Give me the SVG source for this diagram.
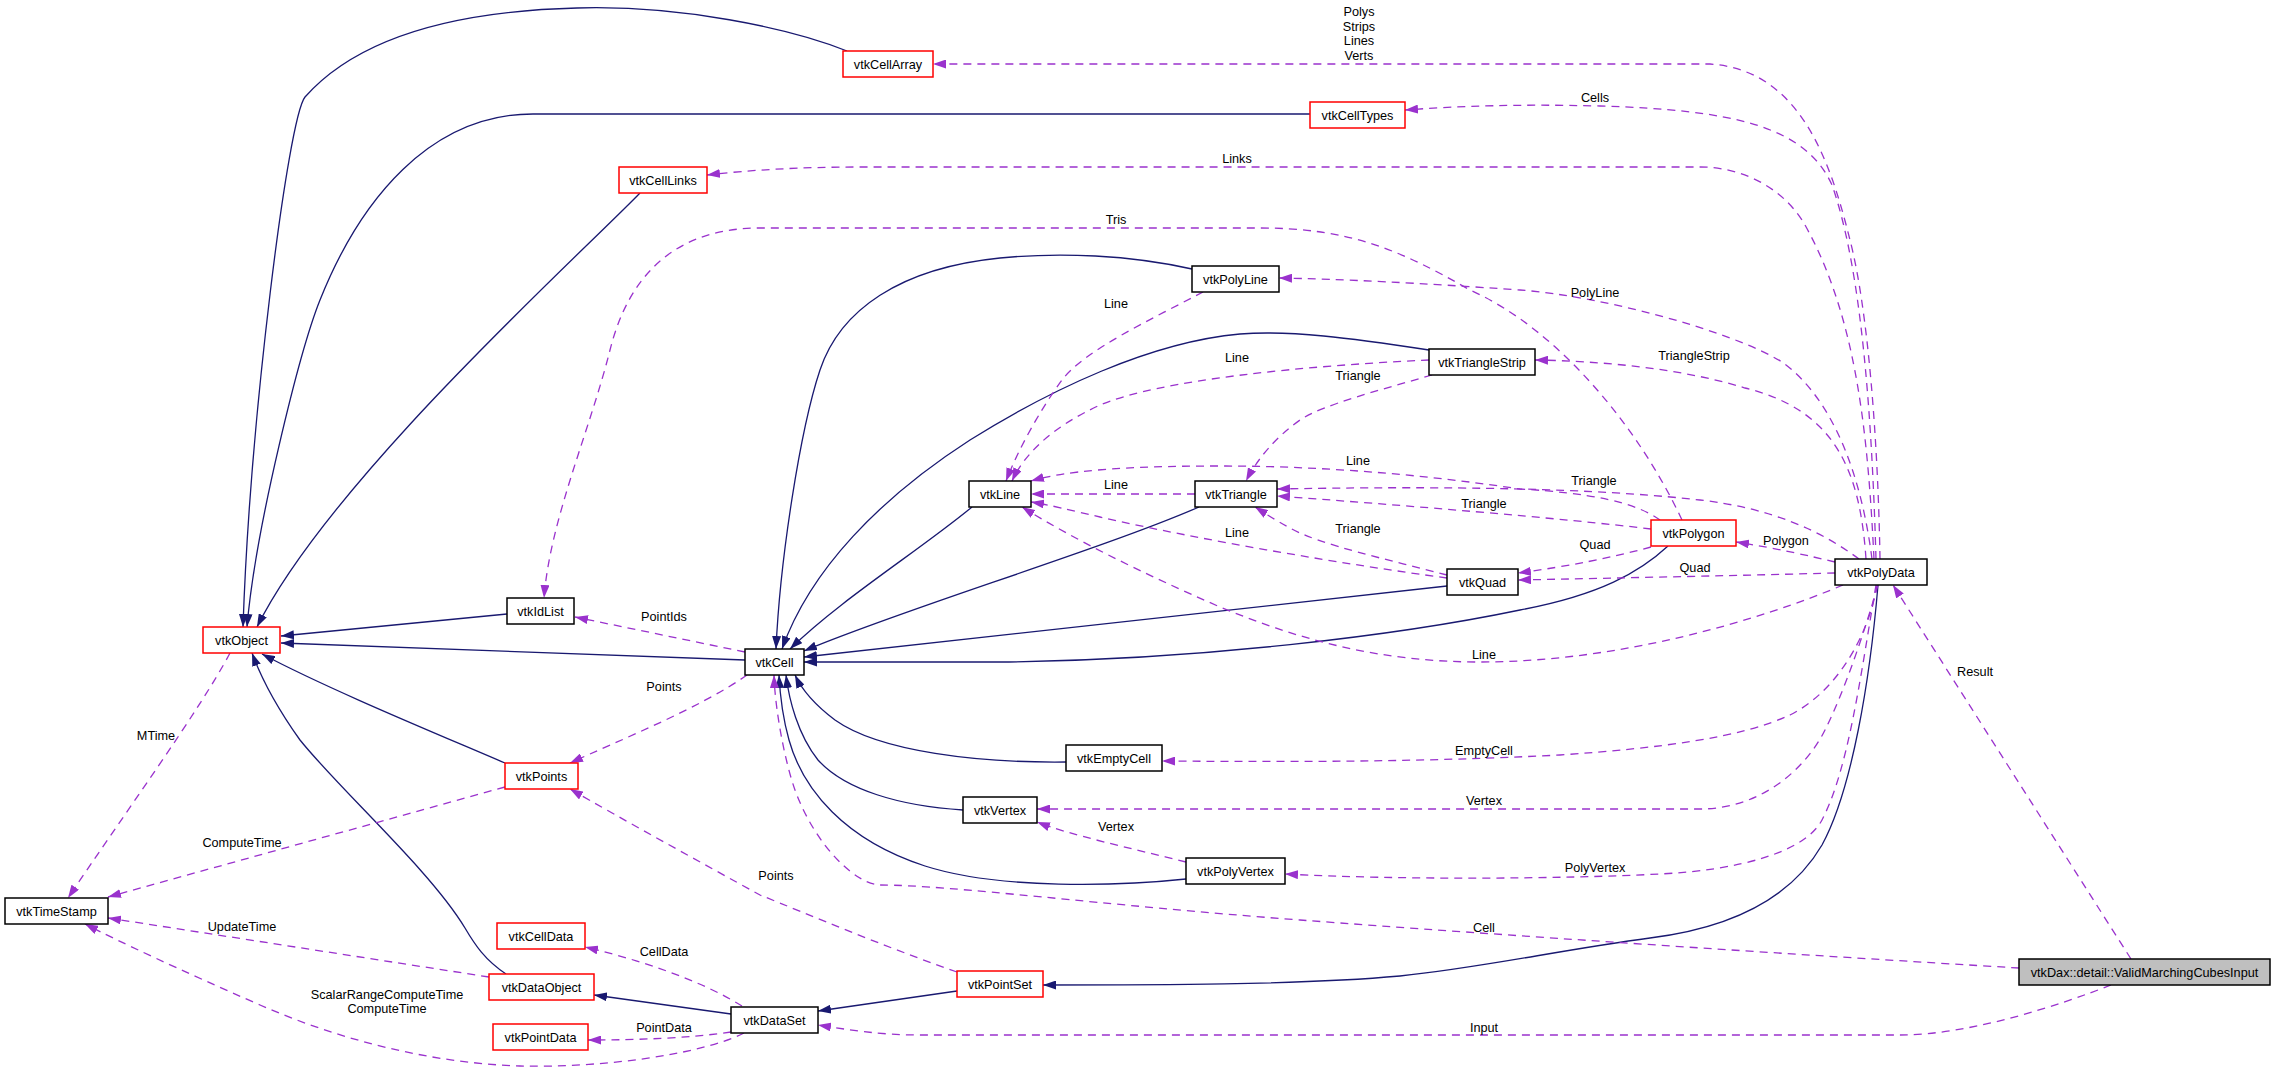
<svg xmlns="http://www.w3.org/2000/svg" width="2275" height="1072" viewBox="0 0 2275 1072">
<style>
  .bg { fill: #ffffff; }
  .n rect { fill: #ffffff; stroke: #000000; stroke-width: 1.5; }
  .n.r rect { stroke: #ff0000; }
  .n.g rect { fill: #bfbfbf; }
  .n text { font-family: "Liberation Sans", Arial, sans-serif; font-size: 12.7px; fill: #000; text-anchor: middle; }
  .s { fill: none; stroke: #191970; stroke-width: 1.3; marker-end: url(#as); }
  .d { fill: none; stroke: #9a32cd; stroke-width: 1.3; stroke-dasharray: 8,6; marker-end: url(#ad); }
  .lbl text { font-family: "Liberation Sans", Arial, sans-serif; font-size: 12.7px; fill: #000; text-anchor: middle; }
</style>
<defs>
  <marker id="as" markerUnits="userSpaceOnUse" markerWidth="13" markerHeight="9" viewBox="0 0 13 9" refX="13" refY="4.5" orient="auto">
    <path d="M0,0 L13,4.5 L0,9 z" fill="#191970"/>
  </marker>
  <marker id="ad" markerUnits="userSpaceOnUse" markerWidth="13" markerHeight="9" viewBox="0 0 13 9" refX="13" refY="4.5" orient="auto">
    <path d="M0,0 L13,4.5 L0,9 z" fill="#9a32cd"/>
  </marker>
</defs>
<rect class="bg" x="0" y="0" width="2275" height="1072"/>

<g id="connectors">
  <!-- inheritance (solid) -->
  <path class="s" d="M847,51 C790,28 680,5 577,8 C460,11 360,35 305,97 C288,118 250,420 243,627"/>
  <path class="s" d="M1310,114 L533,114 C430,114 360,200 320,300 C300,350 255,530 247,627"/>
  <path class="s" d="M640,193 C580,255 330,480 257,627"/>
  <path class="s" d="M507,614 L281,636"/>
  <path class="s" d="M745,660 L281,643"/>
  <path class="s" d="M505,763 C440,735 330,690 262,654"/>
  <path class="s" d="M506,974 C485,960 475,945 465,928 C430,870 340,790 300,740 C280,712 262,680 252,653"/>
  <path class="s" d="M1192,269 C1130,255 1060,252 1000,258 C900,268 840,310 820,370 C800,430 780,560 776,649"/>
  <path class="s" d="M1429,350 C1350,338 1290,330 1240,334 C1150,342 1050,390 970,440 C880,498 810,570 782,649"/>
  <path class="s" d="M972,507 C920,550 840,600 790,649"/>
  <path class="s" d="M1199,507 C1100,550 900,610 804,651"/>
  <path class="s" d="M1447,586 L804,657"/>
  <path class="s" d="M1668,546 C1640,572 1600,595 1520,610 C1400,635 1200,660 1000,662 L804,662"/>
  <path class="s" d="M1066,762 C980,763 880,752 835,720 C815,705 802,690 795,675"/>
  <path class="s" d="M963,810 C900,806 845,790 818,760 C798,735 789,700 786,675"/>
  <path class="s" d="M1186,879 C1120,886 1000,890 925,866 C845,840 803,790 789,740 C782,715 780,695 779,675"/>
  <path class="s" d="M1878,585 C1870,680 1852,790 1822,845 C1790,900 1730,928 1650,938 C1560,950 1480,968 1400,976 C1300,985 1150,985 1043,985"/>
  <path class="s" d="M957,991 L818,1011"/>
  <path class="s" d="M731,1014 L594,995"/>

  <!-- usage (dashed) -->
  <path class="d" d="M1880,559 C1878,440 1868,310 1850,240 C1830,160 1800,70 1710,64 L933,64"/>
  <path class="d" d="M1876,559 C1872,420 1862,270 1832,185 C1805,125 1730,110 1600,106 C1520,104 1460,106 1405,110"/>
  <path class="d" d="M1874,559 C1868,440 1858,320 1805,225 C1785,190 1745,167 1700,167 L860,167 C800,167 750,170 707,175"/>
  <path class="d" d="M1872,559 C1862,480 1835,400 1782,362 C1730,330 1600,296 1520,290 C1420,283 1340,279 1279,278"/>
  <path class="d" d="M1866,559 C1860,470 1835,410 1745,388 C1680,368 1600,361 1535,360"/>
  <path class="d" d="M1859,559 C1820,530 1770,508 1700,500 C1620,491 1500,485 1277,489"/>
  <path class="d" d="M1660,520 C1635,502 1590,493 1520,489 C1420,474 1320,466 1220,466 C1120,466 1065,471 1031,481"/>
  <path class="d" d="M1651,529 C1560,518 1400,505 1277,496"/>
  <path class="d" d="M1651,547 C1610,558 1570,566 1518,573"/>
  <path class="d" d="M1835,573 C1760,575 1620,578 1518,580"/>
  <path class="d" d="M1835,562 C1810,556 1775,548 1736,542"/>
  <path class="d" d="M1843,585 C1760,620 1620,662 1480,662 C1380,662 1300,640 1220,607 C1140,572 1075,540 1022,507"/>
  <path class="d" d="M1682,520 C1640,430 1560,330 1470,290 C1400,250 1350,228 1260,228 L760,228 C680,228 630,270 610,350 C590,430 550,520 544,598"/>
  <path class="d" d="M1429,360 C1300,366 1160,380 1100,405 C1050,428 1024,455 1012,481"/>
  <path class="d" d="M1432,375 C1380,390 1322,405 1300,420 C1275,438 1258,458 1246,481"/>
  <path class="d" d="M1203,292 C1150,320 1085,350 1062,380 C1040,410 1018,450 1006,481"/>
  <path class="d" d="M1195,494 L1031,494"/>
  <path class="d" d="M1447,578 C1350,565 1200,540 1100,517 C1070,510 1050,505 1031,502"/>
  <path class="d" d="M1447,575 C1390,560 1320,545 1290,528 C1275,520 1263,512 1255,507"/>
  <path class="d" d="M1877,585 C1870,630 1840,690 1790,715 C1740,738 1660,748 1560,755 C1420,762 1300,762 1162,761"/>
  <path class="d" d="M1878,585 C1865,630 1845,690 1825,730 C1805,770 1760,809 1700,809 L1037,809"/>
  <path class="d" d="M1876,585 C1860,680 1848,770 1822,820 C1805,852 1740,870 1660,874 C1560,879 1400,880 1285,874"/>
  <path class="d" d="M1186,862 C1130,848 1070,835 1037,822"/>
  <path class="d" d="M957,972 C880,945 810,915 760,895 C700,862 620,818 570,789"/>
  <path class="d" d="M747,675 C700,708 620,740 570,763"/>
  <path class="d" d="M745,652 L575,617"/>
  <path class="d" d="M230,653 C200,710 120,820 68,898"/>
  <path class="d" d="M505,787 L108,897"/>
  <path class="d" d="M489,977 L108,918"/>
  <path class="d" d="M744,1033 C700,1055 600,1068 520,1066 C430,1063 340,1040 260,1005 C180,970 120,942 85,924"/>
  <path class="d" d="M742,1006 C700,980 640,960 585,947"/>
  <path class="d" d="M731,1032 C690,1038 640,1040 588,1040"/>
  <path class="d" d="M2019,968 C1800,955 1500,935 1300,920 C1100,905 950,885 880,885 C855,884 815,845 795,790 C785,762 775,710 774,675"/>
  <path class="d" d="M2111,985 C2060,1005 1970,1035 1900,1035 L920,1035 C880,1035 850,1030 818,1025"/>
  <path class="d" d="M2131,959 L1893,585"/>

  <g class="lbl">
    <text x="1359" y="16">Polys</text>
    <text x="1359" y="31">Strips</text>
    <text x="1359" y="45">Lines</text>
    <text x="1359" y="60">Verts</text>
    <text x="1595" y="102">Cells</text>
    <text x="1237" y="163">Links</text>
    <text x="1116" y="224">Tris</text>
    <text x="1116" y="308">Line</text>
    <text x="1595" y="297">PolyLine</text>
    <text x="1237" y="362">Line</text>
    <text x="1694" y="360">TriangleStrip</text>
    <text x="1358" y="380">Triangle</text>
    <text x="1358" y="465">Line</text>
    <text x="1594" y="485">Triangle</text>
    <text x="1116" y="489">Line</text>
    <text x="1484" y="508">Triangle</text>
    <text x="1237" y="537">Line</text>
    <text x="1358" y="533">Triangle</text>
    <text x="1786" y="545">Polygon</text>
    <text x="1595" y="549">Quad</text>
    <text x="1695" y="572">Quad</text>
    <text x="664" y="621">PointIds</text>
    <text x="1484" y="659">Line</text>
    <text x="1975" y="676">Result</text>
    <text x="664" y="691">Points</text>
    <text x="156" y="740">MTime</text>
    <text x="1484" y="755">EmptyCell</text>
    <text x="1484" y="805">Vertex</text>
    <text x="1116" y="831">Vertex</text>
    <text x="242" y="847">ComputeTime</text>
    <text x="1595" y="872">PolyVertex</text>
    <text x="776" y="880">Points</text>
    <text x="242" y="931">UpdateTime</text>
    <text x="1484" y="932">Cell</text>
    <text x="664" y="956">CellData</text>
    <text x="387" y="999">ScalarRangeComputeTime</text>
    <text x="387" y="1013">ComputeTime</text>
    <text x="664" y="1032">PointData</text>
    <text x="1484" y="1032">Input</text>
  </g>
</g>

<g id="vtkCellArray" class="n r"><rect x="843" y="51" width="90" height="26"/><text x="888" y="68.5">vtkCellArray</text></g>
<g id="vtkCellTypes" class="n r"><rect x="1310" y="102" width="95" height="26"/><text x="1357.5" y="119.5">vtkCellTypes</text></g>
<g id="vtkCellLinks" class="n r"><rect x="619" y="167" width="88" height="26"/><text x="663" y="184.5">vtkCellLinks</text></g>
<g id="vtkPolyLine" class="n"><rect x="1192" y="266" width="87" height="26"/><text x="1235.5" y="283.5">vtkPolyLine</text></g>
<g id="vtkTriangleStrip" class="n"><rect x="1429" y="349" width="106" height="26"/><text x="1482" y="366.5">vtkTriangleStrip</text></g>
<g id="vtkIdList" class="n"><rect x="507" y="598" width="67" height="26"/><text x="540.5" y="615.5">vtkIdList</text></g>
<g id="vtkObject" class="n r"><rect x="203" y="627" width="77" height="26"/><text x="241.5" y="644.5">vtkObject</text></g>
<g id="vtkLine" class="n"><rect x="969" y="481" width="62" height="26"/><text x="1000" y="498.5">vtkLine</text></g>
<g id="vtkTriangle" class="n"><rect x="1195" y="481" width="82" height="26"/><text x="1236" y="498.5">vtkTriangle</text></g>
<g id="vtkPolygon" class="n r"><rect x="1651" y="520" width="85" height="26"/><text x="1693.5" y="537.5">vtkPolygon</text></g>
<g id="vtkPolyData" class="n"><rect x="1835" y="559" width="92" height="26"/><text x="1881" y="576.5">vtkPolyData</text></g>
<g id="vtkQuad" class="n"><rect x="1447" y="569" width="71" height="26"/><text x="1482.5" y="586.5">vtkQuad</text></g>
<g id="vtkCell" class="n"><rect x="745" y="649" width="59" height="26"/><text x="774.5" y="666.5">vtkCell</text></g>
<g id="vtkEmptyCell" class="n"><rect x="1066" y="745" width="96" height="26"/><text x="1114" y="762.5">vtkEmptyCell</text></g>
<g id="vtkPoints" class="n r"><rect x="505" y="763" width="73" height="26"/><text x="541.5" y="780.5">vtkPoints</text></g>
<g id="vtkVertex" class="n"><rect x="963" y="797" width="74" height="26"/><text x="1000" y="814.5">vtkVertex</text></g>
<g id="vtkPolyVertex" class="n"><rect x="1186" y="858" width="99" height="26"/><text x="1235.5" y="875.5">vtkPolyVertex</text></g>
<g id="vtkTimeStamp" class="n"><rect x="5" y="898" width="103" height="26"/><text x="56.5" y="915.5">vtkTimeStamp</text></g>
<g id="vtkCellData" class="n r"><rect x="497" y="923" width="88" height="26"/><text x="541" y="940.5">vtkCellData</text></g>
<g id="vtkDataObject" class="n r"><rect x="489" y="974" width="105" height="26"/><text x="541.5" y="991.5">vtkDataObject</text></g>
<g id="vtkPointSet" class="n r"><rect x="957" y="971" width="86" height="26"/><text x="1000" y="988.5">vtkPointSet</text></g>
<g id="vtkDataSet" class="n"><rect x="731" y="1007" width="87" height="26"/><text x="774.5" y="1024.5">vtkDataSet</text></g>
<g id="vtkPointData" class="n r"><rect x="493" y="1024" width="95" height="26"/><text x="540.5" y="1041.5">vtkPointData</text></g>
<g id="vtkDaxValidMarchingCubesInput" class="n g"><rect x="2019" y="959" width="251" height="26"/><text x="2144.5" y="976.5">vtkDax::detail::ValidMarchingCubesInput</text></g>
</svg>
